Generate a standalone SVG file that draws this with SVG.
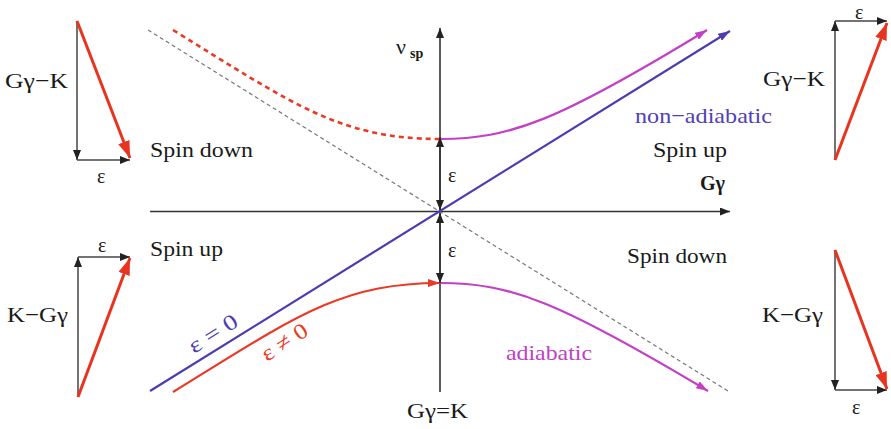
<svg xmlns="http://www.w3.org/2000/svg" width="891" height="429" viewBox="0 0 891 429">
<style>
.t{font-family:"Liberation Serif","Times New Roman",serif;font-size:22px;fill:#1a1a1a}
.e{font-size:20px}
.b{font-weight:bold}
.ax{stroke:#333;stroke-width:1.6;fill:none}
.vec{stroke:#444;stroke-width:1.5;fill:none}
.rv{stroke:#e8341f;stroke-width:3;fill:none}
.blue{stroke:#4b3cb2;stroke-width:2.2;fill:none}
.mag{stroke:#c33fc6;stroke-width:2.2;fill:none}
.red{stroke:#ea3924;stroke-width:2.2;fill:none}
.dash{stroke:#777;stroke-width:1.2;stroke-dasharray:4 3;fill:none}
</style>
<defs>
<marker id="ak" markerUnits="userSpaceOnUse" markerWidth="10" markerHeight="8" refX="10" refY="4" orient="auto"><path d="M0,0 L10,4 L0,8 z" fill="#222"/></marker>
<marker id="ab" markerUnits="userSpaceOnUse" markerWidth="12" markerHeight="8" refX="12" refY="4" orient="auto"><path d="M0,0 L12,4 L0,8 z" fill="#4b3cb2"/></marker>
<marker id="am" markerUnits="userSpaceOnUse" markerWidth="12" markerHeight="8" refX="12" refY="4" orient="auto"><path d="M0,0 L12,4 L0,8 z" fill="#c33fc6"/></marker>
<marker id="ar" markerUnits="userSpaceOnUse" markerWidth="12" markerHeight="8" refX="12" refY="4" orient="auto"><path d="M0,0 L12,4 L0,8 z" fill="#ea3924"/></marker>
<marker id="aR" markerUnits="userSpaceOnUse" markerWidth="17" markerHeight="12" refX="17" refY="6" orient="auto"><path d="M0,0 L17,6 L0,12 z" fill="#e8341f"/></marker>
</defs>

<g id="axes">
<path class="ax" d="M440,392 L440,28" marker-end="url(#ak)"/>
<path class="ax" d="M150,211.5 L730,211.5" marker-end="url(#ak)"/>
<text class="t" x="396" y="54">ν</text>
<text class="t b" x="410" y="58" style="font-size:14px">sp</text>
<text class="t b" x="700" y="190" textLength="25" lengthAdjust="spacingAndGlyphs">Gγ</text>
<text class="t" x="407" y="418" textLength="61" lengthAdjust="spacingAndGlyphs">Gγ=K</text>
</g>

<g id="connectors">
<path class="dash" d="M148,30 L728,391"/>
<path class="blue" d="M150,391 L730,31" marker-end="url(#ab)"/>
<path class="red" d="M173,30 C293,104 340,139 440,139" style="stroke-width:2.6;stroke-dasharray:5 4"/>
<path class="mag" d="M440,139 C510,139 558,121 707,30" marker-end="url(#am)"/>
<path class="red" d="M173,392 C293,318 340,283 440,283" marker-end="url(#ar)"/>
<path class="mag" d="M440,283 C510,283 558,301 708,391" marker-end="url(#am)"/>
<path class="ax" d="M440,175 L440,137" marker-end="url(#ak)"/>
<path class="ax" d="M440,175 L440,210" marker-end="url(#ak)"/>
<path class="ax" d="M440,247 L440,213" marker-end="url(#ak)"/>
<path class="ax" d="M440,247 L440,283" marker-end="url(#ak)"/>
</g>

<g id="labels">
<text class="t e" x="448" y="182">ε</text>
<text class="t e" x="448" y="257">ε</text>
<text class="t" x="150" y="157" textLength="103" lengthAdjust="spacingAndGlyphs">Spin down</text>
<text class="t" x="653" y="157" textLength="74" lengthAdjust="spacingAndGlyphs">Spin up</text>
<text class="t" x="150" y="256" textLength="73" lengthAdjust="spacingAndGlyphs">Spin up</text>
<text class="t" x="627" y="263" textLength="100" lengthAdjust="spacingAndGlyphs">Spin down</text>
<text class="t" x="635" y="123" textLength="137" lengthAdjust="spacingAndGlyphs" style="fill:#5040b8">non−adiabatic</text>
<text class="t" x="506" y="360" textLength="86" lengthAdjust="spacingAndGlyphs" style="fill:#c040c4">adiabatic</text>
<text class="t" transform="translate(194,354) rotate(-32)" textLength="54" lengthAdjust="spacingAndGlyphs" style="fill:#4b3cb2">ε = 0</text>
<text class="t" transform="translate(267,362) rotate(-33)" textLength="51" lengthAdjust="spacingAndGlyphs" style="fill:#ea3924">ε ≠ 0</text>
</g>

<g id="vector-top-left">
<path class="vec" d="M77,21 L77,160" marker-end="url(#ak)"/>
<path class="vec" d="M77,160 L130,160" marker-end="url(#ak)"/>
<path class="rv" d="M77,21 L130,158" marker-end="url(#aR)"/>
<text class="t" x="5" y="88" textLength="63" lengthAdjust="spacingAndGlyphs">Gγ−K</text>
<text class="t e" x="97" y="183">ε</text>
</g>

<g id="vector-bottom-left">
<path class="vec" d="M78,397 L78,257" marker-end="url(#ak)"/>
<path class="vec" d="M78,257 L130,257" marker-end="url(#ak)"/>
<path class="rv" d="M78,397 L130,258" marker-end="url(#aR)"/>
<text class="t" x="7" y="322" textLength="61" lengthAdjust="spacingAndGlyphs">K−Gγ</text>
<text class="t e" x="98" y="252">ε</text>
</g>

<g id="vector-top-right">
<path class="vec" d="M835,160 L835,21" marker-end="url(#ak)"/>
<path class="vec" d="M835,21 L887,21" marker-end="url(#ak)"/>
<path class="rv" d="M835,160 L887,23" marker-end="url(#aR)"/>
<text class="t" x="763" y="86" textLength="62" lengthAdjust="spacingAndGlyphs">Gγ−K</text>
<text class="t e" x="855" y="19">ε</text>
</g>

<g id="vector-bottom-right">
<path class="vec" d="M835,250 L835,390" marker-end="url(#ak)"/>
<path class="vec" d="M835,390 L887,390" marker-end="url(#ak)"/>
<path class="rv" d="M835,250 L887,389" marker-end="url(#aR)"/>
<text class="t" x="762" y="322" textLength="61" lengthAdjust="spacingAndGlyphs">K−Gγ</text>
<text class="t e" x="852" y="414">ε</text>
</g>
</svg>
